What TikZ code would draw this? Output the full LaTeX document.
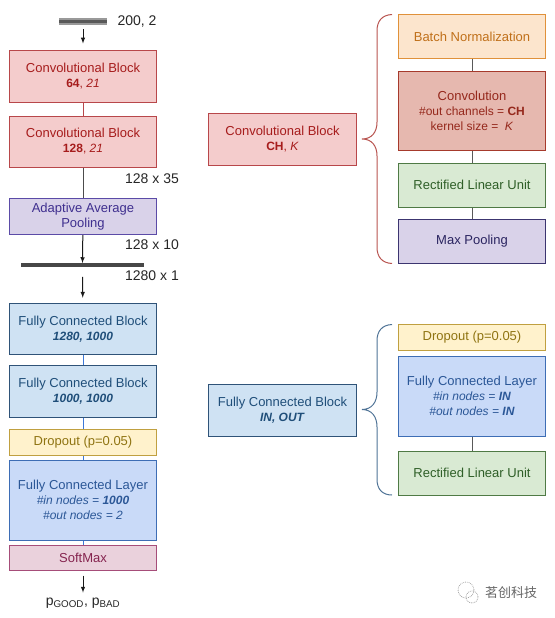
\documentclass[tikz,border=0pt]{standalone}
\usepackage{fontspec}
\setmainfont{Liberation Sans}
\newfontfamily\cjkfont{Noto Sans CJK SC}
\definecolor{redfill}{HTML}{F4CCCC}
\definecolor{redline}{HTML}{B8474A}
\definecolor{redtext}{HTML}{A61C1C}
\definecolor{purplefill}{HTML}{D9D2E9}
\definecolor{purpleline}{HTML}{5B4BA7}
\definecolor{purpletext}{HTML}{3F2F8F}
\definecolor{maxline}{HTML}{3C3570}
\definecolor{maxtext}{HTML}{2A2460}
\definecolor{bluefill}{HTML}{CFE2F3}
\definecolor{blueline}{HTML}{2F5378}
\definecolor{bluetext}{HTML}{1F4E79}
\definecolor{layerfill}{HTML}{C9DAF8}
\definecolor{layerline}{HTML}{3D6DB5}
\definecolor{layertext}{HTML}{2B5797}
\definecolor{linkblue}{HTML}{3C78D8}
\definecolor{dropfill}{HTML}{FFF2CC}
\definecolor{dropline}{HTML}{C0A040}
\definecolor{droptext}{HTML}{8F7412}
\definecolor{softfill}{HTML}{EAD1DC}
\definecolor{softline}{HTML}{A64D79}
\definecolor{softtext}{HTML}{85244F}
\definecolor{batchfill}{HTML}{FCE5CD}
\definecolor{batchline}{HTML}{E0913A}
\definecolor{batchtext}{HTML}{C0701A}
\definecolor{convfill}{HTML}{E6B8AF}
\definecolor{convline}{HTML}{A63A2C}
\definecolor{convtext}{HTML}{95281C}
\definecolor{relufill}{HTML}{D9EAD3}
\definecolor{reluline}{HTML}{4F7A45}
\definecolor{relutext}{HTML}{2F5F28}
\definecolor{bracered}{HTML}{B85450}
\definecolor{braceblue}{HTML}{4F7396}
\tikzset{
	x=1pt, y=-1pt,
	block/.style={shape=rectangle, draw, line width=1pt, inner sep=0pt, align=center, font=\fontsize{13}{15}\selectfont},
	lines/.style={execute at begin node={\vspace*{3.5pt}}},
	leftcol/.style={block, minimum width=146.5pt},
	rightcol/.style={block, minimum width=147pt},
	convblock/.style={fill=redfill, draw=redline, text=redtext},
	avgpool/.style={fill=purplefill, draw=purpleline, text=purpletext},
	maxpool/.style={fill=purplefill, draw=maxline, text=maxtext},
	fcblock/.style={fill=bluefill, draw=blueline, text=bluetext},
	fclayer/.style={fill=layerfill, draw=layerline, text=layertext},
	dropbox/.style={fill=dropfill, draw=dropline, text=droptext},
	softbox/.style={fill=softfill, draw=softline, text=softtext},
	batchbox/.style={fill=batchfill, draw=batchline, text=batchtext},
	convbox/.style={fill=convfill, draw=convline, text=convtext},
	relubox/.style={fill=relufill, draw=reluline, text=relutext},
	sizelabel/.style={font=\fontsize{14}{16}\selectfont, inner sep=0pt, text=black!85},
	flow/.style={line width=1pt, -latex},
	link/.style={line width=1pt}
}
\newcommand{\subline}[1]{{\fontsize{12}{15}\selectfont #1}}
\begin{document}
\begin{tikzpicture}
	\useasboundingbox (0, 0) rectangle (554, 618);
	\node[shape=rectangle, fill=black!40, minimum width=48.5pt, minimum height=7pt, inner sep=0pt](N0) at (83, 21.5){};
	\node[shape=rectangle, fill=black!65, minimum width=48.5pt, minimum height=2.5pt, inner sep=0pt](N0c) at (83, 21.5){};
	\node[sizelabel](L0) at (137, 21.5){200, 2};
	\node[leftcol, lines, convblock, minimum height=51pt](N1) at (83, 76.5){Convolutional Block\\\subline{\textbf{64}, \textit{21}}};
	\node[leftcol, lines, convblock, minimum height=51pt](N2) at (83, 141.5){Convolutional Block\\\subline{\textbf{128}, \textit{21}}};
	\node[sizelabel](L1) at (152, 178.5){128 x 35};
	\node[leftcol, lines, avgpool, minimum height=36.5pt](N3) at (83, 216.3){Adaptive Average\\Pooling};
	\node[sizelabel](L2) at (152, 245){128 x 10};
	\node[shape=rectangle, fill=black!72, minimum width=123pt, minimum height=3.5pt, inner sep=0pt](N4) at (82.5, 265){};
	\node[sizelabel](L3) at (152, 275.5){1280 x 1};
	\node[leftcol, lines, fcblock, minimum height=51.5pt](N5) at (83, 329){Fully Connected Block\\\subline{\textbf{\textit{1280, 1000}}}};
	\node[leftcol, lines, fcblock, minimum height=52pt](N6) at (83, 391){Fully Connected Block\\\subline{\textbf{\textit{1000, 1000}}}};
	\node[leftcol, dropbox, minimum height=25.5pt](N7) at (83, 442.3){Dropout (p=0.05)};
	\node[leftcol, lines, fclayer, minimum height=80pt](N8) at (83, 500){Fully Connected Layer\\\subline{\textit{\#in nodes =} \textbf{\textit{1000}}}\\\subline{\textit{\#out nodes = 2}}};
	\node[leftcol, softbox, minimum height=25pt](N9) at (83, 557.5){SoftMax};
	\node[inner sep=0pt, font=\fontsize{14}{16}\selectfont, text=black!85](N10) at (83, 603){p\textsubscript{GOOD}, p\textsubscript{BAD}};
	\node[block, lines, convblock, minimum width=147.5pt, minimum height=52pt](B1) at (282.5, 139){Convolutional Block\\\subline{\textbf{CH}, \textit{K}}};
	\node[rightcol, batchbox, minimum height=44pt](R1) at (472, 36.5){Batch Normalization};
	\node[rightcol, lines, convbox, minimum height=79.5pt](R2) at (472, 110.8){Convolution\\\subline{\#out channels = \textbf{CH}}\\\subline{kernel size = ~\textit{K}}};
	\node[rightcol, relubox, minimum height=44pt](R3) at (472, 185){Rectified Linear Unit};
	\node[rightcol, maxpool, minimum height=43.5pt](R4) at (472, 241.3){Max Pooling};
	\node[block, lines, fcblock, minimum width=147.5pt, minimum height=52pt](B2) at (282.5, 410){Fully Connected Block\\\subline{\textbf{\textit{IN, OUT}}}};
	\node[rightcol, dropbox, minimum height=26pt](S1) at (472, 337.5){Dropout (p=0.05)};
	\node[rightcol, lines, fclayer, minimum height=80pt](S2) at (472, 396){Fully Connected Layer\\\subline{\textit{\#in nodes =} \textbf{\textit{IN}}}\\\subline{\textit{\#out nodes =} \textbf{\textit{IN}}}};
	\node[rightcol, relubox, minimum height=44pt](S3) at (472, 473){Rectified Linear Unit};
	\node[inner sep=0pt, font=\cjkfont\fontsize{13}{15}\selectfont, text=black!60](W1) at (511, 593){茗创科技};
	\draw[black!35, line width=0.8pt, densely dotted] (466, 590) circle[radius=8pt];
	\draw[black!35, line width=0.8pt, densely dotted] (472, 597) circle[radius=6pt];
	\draw[flow, shorten <=4pt, shorten >=7pt, black!90] (N0) -- (N1);
	\draw[link, redline] (N1) -- (N2);
	\draw[link, black!70] (N2) -- (N3);
	\draw[flow, black!90] (N3) -- (N4);
	\draw[flow, shorten <=10pt, shorten >=5pt, black!90] (N4) -- (N5);
	\draw[link, linkblue] (N5) -- (N6);
	\draw[link, linkblue] (N6) -- (N7);
	\draw[link, linkblue] (N7) -- (N8);
	\draw[link, linkblue] (N8) -- (N9);
	\draw[flow, shorten <=5pt, shorten >=5pt, black!90] (N9) -- (N10);
	\draw[link, black!65] (R1) -- (R2);
	\draw[link, black!65] (R2) -- (R3);
	\draw[link, black!65] (R3) -- (R4);
	\draw[link, black!65] (S2) -- (S3);
	\draw[bracered, line width=1pt] (392, 14.5) .. controls (382, 15) and (377, 21) .. (377, 31) -- (377, 122) .. controls (377, 132) and (372, 139) .. (362, 139) .. controls (372, 139) and (377, 146) .. (377, 156) -- (377, 247) .. controls (377, 257) and (382, 263) .. (392, 263.5);
	\draw[braceblue, line width=1pt] (392, 324.5) .. controls (382, 325) and (377, 331) .. (377, 341) -- (377, 392) .. controls (377, 402) and (372, 409.5) .. (362, 409.5) .. controls (372, 409.5) and (377, 417) .. (377, 427) -- (377, 479) .. controls (377, 489) and (382, 495) .. (392, 495);
\end{tikzpicture}
\end{document}
